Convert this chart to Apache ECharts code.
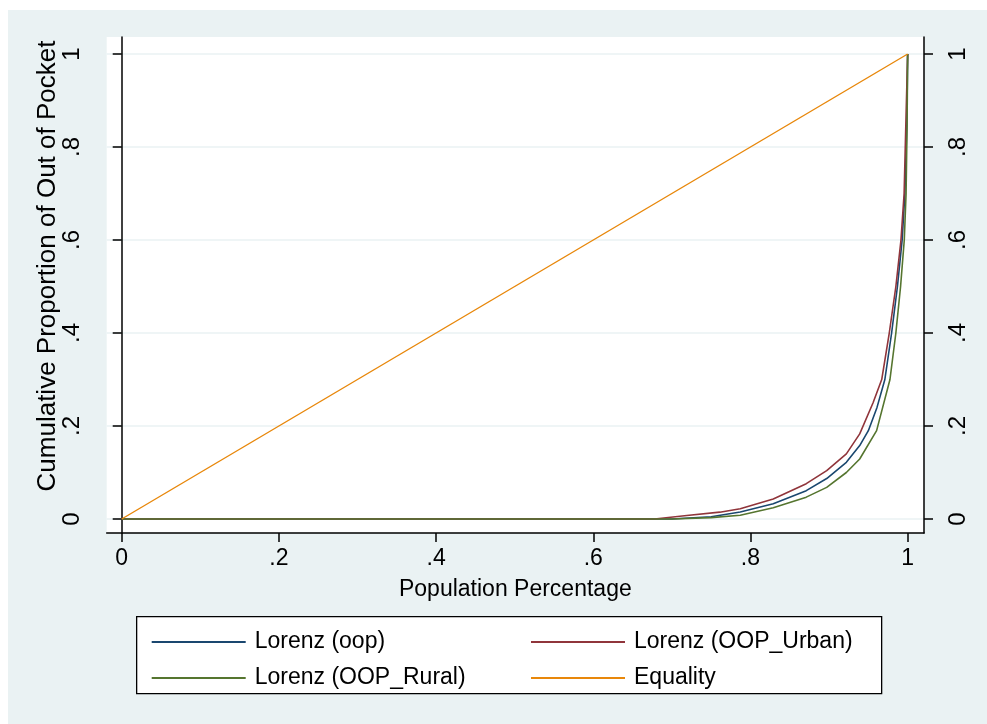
<!DOCTYPE html>
<html><head><meta charset="utf-8">
<script src="https://cdn.jsdelivr.net/npm/echarts@6/dist/echarts.min.js"></script>
<style>html,body{margin:0;padding:0;background:#fff;}#c{position:absolute;left:8px;top:10px;width:979px;height:714px;}</style>
</head><body><div id="c"></div>
<script>
// tick values and labels
const tickValues = [0, 0.2, 0.4, 0.6, 0.8, 1];
const tickLabels = ['0', '.2', '.4', '.6', '.8', '1'];

// Lorenz (oop)
const oopX = [0, 0.70, 0.75, 0.787, 0.829, 0.871, 0.897, 0.922, 0.939, 0.950, 0.961, 0.971, 0.9796, 0.987, 0.993, 0.9965, 0.999, 1.0];
const oopY = [0, 0, 0.005, 0.015, 0.033, 0.061, 0.087, 0.122, 0.158, 0.19, 0.24, 0.30, 0.40, 0.50, 0.60, 0.70, 0.85, 1.0];
// Lorenz (OOP_Urban)
const urbanX = [0, 0.678, 0.719, 0.761, 0.787, 0.829, 0.871, 0.897, 0.922, 0.939, 0.956, 0.967, 0.9766, 0.985, 0.9915, 0.9955, 0.998, 1.0];
const urbanY = [0, 0, 0.0075, 0.0147, 0.022, 0.043, 0.076, 0.104, 0.14, 0.183, 0.25, 0.30, 0.40, 0.50, 0.60, 0.70, 0.87, 1.0];
// Lorenz (OOP_Rural)
const ruralX = [0, 0.70, 0.75, 0.787, 0.829, 0.871, 0.897, 0.922, 0.939, 0.9605, 0.9775, 0.985, 0.991, 0.9957, 0.998, 0.9993, 1.0];
const ruralY = [0, 0, 0.003, 0.008, 0.024, 0.047, 0.068, 0.10, 0.129, 0.19, 0.30, 0.40, 0.50, 0.60, 0.70, 0.85, 1.0];
// Equality
const eqX = [0, 1];
const eqY = [0, 1];

const zip = (xs, ys) => xs.map((x, i) => [x, ys[i]]);
const FONT = 'Liberation Sans';
const fmt = v => { const i = Math.round(v * 5); return tickLabels[i] !== undefined ? tickLabels[i] : ''; };

const yAxisBase = (pos) => ({
  type: 'value', position: pos, min: -0.0301, max: 1.0366,
  axisLine: { show: true, lineStyle: { color: '#000', width: 1.5 } },
  axisTick: { show: true, length: 9, lineStyle: { color: '#000', width: 1.5 }, customValues: tickValues },
  axisLabel: { customValues: tickValues, formatter: fmt, rotate: 90, margin: 22, color: '#000', fontSize: 24, fontFamily: FONT },
  splitLine: { show: pos === 'left', lineStyle: { color: '#eaf2f3', width: 1.5 } }
});

const legendBase = {
  orient: 'vertical', top: 615, icon: 'rect', itemWidth: 94, itemHeight: 2, itemGap: 12,
  textStyle: { color: '#000', fontSize: 23, fontFamily: FONT, lineHeight: 24, padding: [0, 0, 0, 4] }
};

const chart = echarts.init(document.getElementById('c'), null, { renderer: 'canvas' });
chart.setOption({
  backgroundColor: '#eaf2f3',
  animation: false,
  grid: { left: 98.7, top: 27, right: 63, bottom: 191, show: true, backgroundColor: '#ffffff', borderWidth: 0 },
  xAxis: {
    type: 'value', min: -0.0191, max: 1.0208,
    axisLine: { show: true, onZero: false, lineStyle: { color: '#000', width: 1.5 } },
    axisTick: { show: true, length: 9, lineStyle: { color: '#000', width: 1.5 }, customValues: tickValues },
    axisLabel: { customValues: tickValues, formatter: fmt, margin: 14, color: '#000', fontSize: 23, fontFamily: FONT },
    splitLine: { show: false },
    name: 'Population Percentage', nameLocation: 'middle', nameGap: 45,
    nameTextStyle: { color: '#000', fontSize: 23, fontFamily: FONT }
  },
  yAxis: [yAxisBase('left'), yAxisBase('right')],
  legend: [
    Object.assign({}, legendBase, { data: ['Lorenz (oop)', 'Lorenz (OOP_Rural)'], left: 138.7 }),
    Object.assign({}, legendBase, { data: ['Lorenz (OOP_Urban)', 'Equality'], left: 518 })
  ],
  graphic: [
    { type: 'rect', left: 128, top: 606, shape: { width: 745, height: 77 }, style: { fill: '#fff', stroke: '#000', lineWidth: 1.3 }, z: -1 },
    { type: 'text', x: 40, y: 256, rotation: Math.PI / 2,
      style: { text: 'Cumulative Proportion of Out of Pocket', fill: '#000', fontSize: 26, fontFamily: FONT, align: 'center', verticalAlign: 'middle' } }
  ],
  series: [
    { name: 'Lorenz (oop)', type: 'line', data: zip(oopX, oopY), symbol: 'none', lineStyle: { color: '#1a476f', width: 1.6 }, itemStyle: { color: '#1a476f' } },
    { name: 'Lorenz (OOP_Urban)', type: 'line', data: zip(urbanX, urbanY), symbol: 'none', lineStyle: { color: '#90353b', width: 1.6 }, itemStyle: { color: '#90353b' } },
    { name: 'Lorenz (OOP_Rural)', type: 'line', data: zip(ruralX, ruralY), symbol: 'none', lineStyle: { color: '#55752f', width: 1.6 }, itemStyle: { color: '#55752f' } },
    { name: 'Equality', type: 'line', data: zip(eqX, eqY), symbol: 'none', lineStyle: { color: '#e8870a', width: 1.4 }, itemStyle: { color: '#e8870a' } }
  ]
});
</script></body></html>
